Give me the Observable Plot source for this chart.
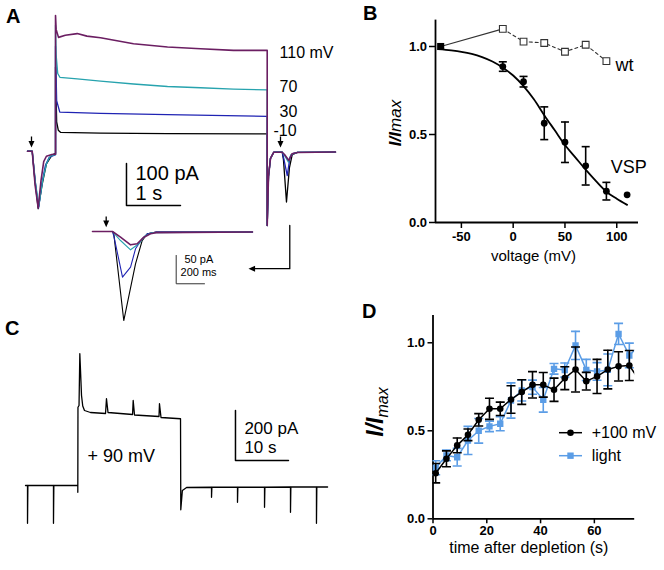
<!DOCTYPE html>
<html><head><meta charset="utf-8">
<script src="https://cdn.jsdelivr.net/npm/d3@7"></script>
<script src="https://cdn.jsdelivr.net/npm/@observablehq/plot@0.6"></script>
<style>
html,body{margin:0;padding:0;background:#fff;}
#fig{position:relative;width:664px;height:570px;overflow:hidden;font-family:'Liberation Sans',Arial,Helvetica,sans-serif;}
#fig svg{position:absolute;overflow:visible;}
</style></head><body><div id="fig"></div>
<script>
const FONT = "'Liberation Sans', Arial, Helvetica, sans-serif";
const fig = document.getElementById("fig");

// ---------- Panel letters ----------
const panelLetters = ["A", "B", "C", "D"];

// ---------- Panel A: traces (time s, current pA) ----------
const aLabels = ["-10", "30", "70", "110 mV"];
const aColors = ["#000000", "#1f23b3", "#27a3ae", "#6b1e62"];
const aBlackT = [0, 0.087, 0.13, 0.198, 0.27, 0.35, 0.45, 0.519, 0.519, 0.54, 0.57, 0.611, 1.352, 2.593, 4.439, 4.439, 4.463, 4.5, 4.561, 4.717, 4.74, 4.796, 4.85, 4.902, 5.0, 5.704];
const aBlackI = [0, 0, -60, -137, -80, -30, -10, -5, 200, 70, 50, 45, 43, 42, 41, -177, -60, -17, -2.4, -2.4, -20, -121, -40, -8, -3, -2];
const aBlueT = [0, 0.087, 0.15, 0.205, 0.27, 0.33, 0.4, 0.519, 0.519, 0.54, 0.598, 1.352, 2.593, 4.439, 4.439, 4.463, 4.5, 4.561, 4.717, 4.75, 4.81, 4.86, 4.92, 5.0, 5.704];
const aBlueI = [0, 0, -80, -135, -75, -35, -15, -8, 250, 120, 93, 90, 87, 83, -177, -60, -17, -2.4, -2.4, -20, -58, -15, -5, -3, -2];
const aCyanT = [0, 0.087, 0.15, 0.21, 0.28, 0.35, 0.42, 0.519, 0.519, 0.53, 0.56, 0.6, 0.92, 1.352, 1.963, 2.593, 3.204, 3.815, 4.439, 4.439, 4.463, 4.5, 4.561, 4.717, 4.76, 4.833, 4.88, 5.0, 5.704];
const aCyanI = [0, 0, -78, -130, -70, -30, -12, -8, 300, 230, 185, 176, 172, 167, 160, 154, 151, 148, 146, -177, -60, -17, -2.4, -2.4, -10, -26, -8, -3, -2];
const aPurpT = [0, 0.087, 0.14, 0.198, 0.25, 0.3, 0.35, 0.45, 0.519, 0.519, 0.53, 0.574, 0.7, 0.92, 1.1, 1.352, 1.963, 2.593, 3.204, 3.815, 4.439, 4.439, 4.463, 4.5, 4.561, 4.717, 4.76, 4.84, 4.9, 5.0, 5.704];
const aPurpI = [0, 0, -80, -135, -70, -25, -12, -8, -7, 323, 290, 271, 276, 280, 274, 270, 256, 248, 244, 240, 240, -177, -60, -17, -2.4, -2.4, -8, -22, -6, -3, -2];
const aLabelT = [4.556, 4.667, 4.667, 4.667];
const aLabelI = [47.6, 93, 154, 233];
const aBarT = 1.833, aBarI = -129.3, aBarDt = 1, aBarDI = 100;
const aBarText = ["100 pA", "1 s"];
const aBarTextT = [2.0, 2.0];
const aBarTextI = [-53, -100.7];
const aArrowT = [0.074, 4.685];

// ---------- Panel A inset (time ms, current pA) ----------
const insBlackT = [0, 141, 151, 221, 304, 351, 387, 450, 1131];
const insBlackI = [0, 0, -5, -157, -57, -16, -4, -1, -1];
const insBlueT = [0, 141, 151, 212, 269, 304, 351, 387, 450, 1131];
const insBlueI = [0, 0, -8, -80.6, -62.8, -30.5, -12.9, -4, -1, -1];
const insCyanT = [0, 141, 198, 269, 327, 375, 420, 1131];
const insCyanI = [0, 0, -15.9, -32.3, -21.7, -7, -2, -1];
const insPurpT = [0, 141, 198, 269, 316, 363, 410, 450, 1131];
const insPurpI = [0, 0, -10, -23.5, -21.7, -10, -4, -2, -1];
const insBarT = 591.5, insBarI = -92.2, insBarDt = 200, insBarDI = 50;
const insBarText = ["50 pA", "200 ms"];
const insBarTextT = [650, 622];
const insBarTextI = [-49.4, -71.8];
const insArrowT = [96.8];

// ---------- Panel B ----------
const bXTicks = [-50, 0, 50, 100];
const bYTicks = [0, 0.5, 1.0];
const bVspV = [-10, 10, 30, 50, 70, 90, 110];
const bVspI = [0.886, 0.80, 0.564, 0.456, 0.322, 0.178, 0.157];
const bVspErr = [0.027, 0.03, 0.093, 0.115, 0.109, 0.05, 0];
const bRefV = [-70];
const bRefI = [1.0];
const bWtV = [-70, -10, 10, 30, 50, 70, 90];
const bWtI = [1.0, 1.10, 1.028, 1.02, 0.97, 1.01, 0.917];
const bFitV = [-72, -60, -50, -40, -30, -20, -10, 0, 10, 20, 30, 40, 50, 60, 70, 80, 90, 100, 110];
const bFitI = [0.985, 0.978, 0.97, 0.958, 0.94, 0.915, 0.88, 0.835, 0.775, 0.70, 0.61, 0.525, 0.44, 0.37, 0.30, 0.235, 0.175, 0.135, 0.10];
const bSeriesLabels = ["wt", "VSP"];
const bSeriesLabelV = [107.5, 111.6];
const bSeriesLabelI = [0.892, 0.3125];

// ---------- Panel C (time s, current pA) ----------
const cT = [0, 0.38, 0.38, 0.45, 5.28, 5.28, 5.35, 9.87, 9.87, 9.9, 10.1, 10.25, 10.4, 10.57, 10.8, 11.13, 12.26, 15.1, 15.28, 15.57, 20.2, 20.32, 20.57, 25.19, 25.28, 25.57, 29.25, 29.3, 29.6, 30.4, 35.1, 35.1, 35.17, 40, 40, 40.07, 45.1, 45.1, 45.17, 50, 50, 50.07, 54.9, 54.9, 54.97, 57];
const cI = [0, 0, -151, 0, 0, -151, 0, 0, -27, 313, 320, 527, 450, 360, 318, 300, 292, 288, 347, 292, 284, 340, 282, 276, 327, 272, 267, -97, -20, -8, -7, -47, -7, -7, -67, -7, -7, -87, -7, -6, -107, -6, -6, -151, -6, -6];
const cBarT = 39.62, cBarI = 100, cBarDt = 10, cBarDI = 200;
const cBarText = ["200 pA", "10 s"];
const cBarTextT = [41.3, 41.3];
const cBarTextI = [226.8, 150.8];
const cStepLabel = ["+ 90 mV"];

// ---------- Panel D ----------
const dXTicks = [0, 20, 40, 60];
const dYTicks = [0, 0.5, 1.0];
const dT = [1, 5, 9, 13, 17, 21, 25, 29, 33, 37, 41, 45, 49, 53, 57, 61, 65, 69, 73, 77];
const dVoltMean = [0.259, 0.341, 0.417, 0.477, 0.5625, 0.625, 0.625, 0.678, 0.720, 0.761, 0.761, 0.733, 0.799, 0.848, 0.782, 0.809, 0.848, 0.866, 0.871, 0.78];
const dVoltErr = [0.055, 0.045, 0.042, 0.033, 0.035, 0.06, 0.038, 0.078, 0.07, 0.075, 0.07, 0.066, 0.065, 0.128, 0.05, 0.097, 0.11, 0.083, 0.085, 0.08];
const dLightMean = [0.29, 0.36, 0.35, 0.445, 0.50, 0.525, 0.54, 0.672, 0.729, 0.748, 0.676, 0.852, 0.845, 0.985, 0.846, 0.837, 0.846, 1.05, 0.928, 0.99];
const dLightErr = [0.04, 0.03, 0.05, 0.08, 0.07, 0.03, 0.04, 0.10, 0.06, 0.04, 0.07, 0.03, 0.04, 0.08, 0.06, 0.05, 0.09, 0.06, 0.07, 0.05];
const dLegend = ["+100 mV", "light"];
const dColors = ["#000000", "#5b9de6"];

// ---------- helpers ----------
const capSym = {draw(ctx, size) { const r = Math.sqrt(size / Math.PI); ctx.moveTo(-r, 0); ctx.lineTo(r, 0); }};
const triDown = {draw(ctx, size) { const r = Math.sqrt(size / Math.PI); ctx.moveTo(-r, -r); ctx.lineTo(r, -r); ctx.lineTo(0, 1.2 * r); ctx.closePath(); }};
const triLeft = {draw(ctx, size) { const r = Math.sqrt(size / Math.PI); ctx.moveTo(r, -r); ctx.lineTo(r, r); ctx.lineTo(-1.2 * r, 0); ctx.closePath(); }};
const zip = (xs, ys) => xs.map((x, i) => ({x, y: ys[i]}));
const baseStyle = {background: "transparent", overflow: "visible", fontFamily: FONT, color: "black"};
function place(svg, left, top) { svg.style.left = left + "px"; svg.style.top = top + "px"; fig.appendChild(svg); return svg; }

// letters overlay
const letterSvg = d3.create("svg").attr("width", 664).attr("height", 570).style("left", "0px").style("top", "0px");
const letterPos = [[6, 23], [363, 20], [5, 335], [362, 318]];
letterSvg.selectAll("text").data(panelLetters).join("text")
  .attr("x", (d, i) => letterPos[i][0]).attr("y", (d, i) => letterPos[i][1])
  .attr("font-family", FONT).attr("font-weight", "bold").attr("font-size", 20).text(d => d);
fig.appendChild(letterSvg.node());

// ---------- Panel A main ----------
const aRows = [[aBlackT, aBlackI], [aBlueT, aBlueI], [aCyanT, aCyanI], [aPurpT, aPurpI]].map(([t, i]) => zip(t, i));
const aMarks = aRows.map((rows, k) => Plot.line(rows, {x: "x", y: "y", stroke: aColors[k], strokeWidth: k === 3 ? 1.6 : 1.3}));
aMarks.push(
  Plot.text(aLabels, {x: (d, i) => aLabelT[i], y: (d, i) => aLabelI[i], text: d => d, textAnchor: "start", fontSize: 16}),
  Plot.line([{x: aBarT, y: aBarI + aBarDI}, {x: aBarT, y: aBarI}, {x: aBarT + aBarDt, y: aBarI}], {x: "x", y: "y", strokeWidth: 1.5}),
  Plot.text(aBarText, {x: aBarTextT, y: aBarTextI, text: d => d, textAnchor: "start", fontSize: 20}),
  Plot.link(aArrowT, {x1: d => d, x2: d => d, y1: 35, y2: 23, strokeWidth: 1.3}),
  Plot.dot(aArrowT, {x: d => d, y: 17.4, symbol: triDown, r: 3, fill: "black", stroke: "none"}),
  Plot.line([{x: 4.857, y: -176.9}, {x: 4.857, y: -279.8}, {x: 4.19, y: -279.8}], {x: "x", y: "y", strokeWidth: 1.3}),
  Plot.dot([4.159], {x: d => d, y: -279.8, symbol: triLeft, r: 3, fill: "black", stroke: "none"})
);
place(Plot.plot({
  width: 360, height: 290, margin: 0,
  x: {domain: [-0.5, 6.1667], axis: null},
  y: {domain: [-331.7, 358.8], axis: null},
  style: baseStyle, marks: aMarks
}), 0, 0);

// ---------- Panel A inset ----------
const insRows = [[insBlackT, insBlackI], [insBlueT, insBlueI], [insCyanT, insCyanI], [insPurpT, insPurpI]].map(([t, i]) => zip(t, i));
const insMarks = insRows.map((rows, k) => Plot.line(rows, {x: "x", y: "y", stroke: aColors[k], strokeWidth: k === 3 ? 1.6 : 1.1}));
insMarks.push(
  Plot.line([{x: insBarT, y: insBarI + insBarDI}, {x: insBarT, y: insBarI}, {x: insBarT + insBarDt, y: insBarI}], {x: "x", y: "y", strokeWidth: 1, stroke: "#333"}),
  Plot.text(insBarText, {x: insBarTextT, y: insBarTextI, text: d => d, textAnchor: "start", fontSize: 11}),
  Plot.link(insArrowT, {x1: d => d, x2: d => d, y1: 26.5, y2: 17.6, strokeWidth: 1.3}),
  Plot.dot(insArrowT, {x: d => d, y: 13.9, symbol: triDown, r: 3, fill: "black", stroke: "none"})
);
place(Plot.plot({
  width: 180, height: 130, margin: 0,
  x: {domain: [-84.8, 1187.3], axis: null},
  y: {domain: [-174.6, 54.67], axis: null},
  style: baseStyle, marks: insMarks
}), 80, 200);

// ---------- Panel C ----------
place(Plot.plot({
  width: 360, height: 240, margin: 0,
  x: {domain: [-4.717, 63.21], axis: null},
  y: {domain: [-220, 740], axis: null},
  style: baseStyle,
  marks: [
    Plot.line(zip(cT, cI), {x: "x", y: "y", strokeWidth: 1.3}),
    Plot.line([{x: cBarT, y: cBarI + cBarDI}, {x: cBarT, y: cBarI}, {x: cBarT + cBarDt, y: cBarI}], {x: "x", y: "y", strokeWidth: 1.5}),
    Plot.text(cBarText, {x: cBarTextT, y: cBarTextI, text: d => d, textAnchor: "start", fontSize: 17}),
    Plot.text(cStepLabel, {x: [11.7], y: [116], text: d => d, textAnchor: "start", fontSize: 18})
  ]
}), 0, 300);

// ---------- Panel B ----------
const bVsp = bVspV.map((v, i) => ({v, i: bVspI[i], e: bVspErr[i]}));
const bErr = bVsp.filter(d => d.e > 0);
const bWt = bWtV.map((v, i) => ({v, i: bWtI[i]}));
const bFit = bFitV.map((v, i) => ({v, i: bFitI[i]}));
const bRef = bRefV.map((v, i) => ({v, i: bRefI[i]}));
const bSvg = Plot.plot({
  width: 304, height: 290,
  marginLeft: 75, marginRight: 26, marginTop: 19.6, marginBottom: 68,
  x: {domain: [-75, 121]},
  y: {domain: [0, 1.15]},
  style: baseStyle,
  marks: [
    Plot.ruleX([-75], {strokeWidth: 1.8}),
    Plot.ruleY([0], {strokeWidth: 1.8}),
    Plot.axisX({ticks: bXTicks, tickFormat: d => String(d), tickSize: 6, tickPadding: 3, fontSize: 13, fontWeight: "bold", strokeWidth: 1.5, label: null}),
    Plot.axisY({ticks: bYTicks, tickFormat: d3.format(".1f"), tickSize: 6, tickPadding: 2.5, fontSize: 13, fontWeight: "bold", strokeWidth: 1.5, label: null}),
    Plot.text(["voltage (mV)"], {frameAnchor: "bottom", dy: 38, dx: -3.5, fontSize: 15}),
    Plot.line(bWt.slice(0, 2), {x: "v", y: "i", stroke: "#333", strokeWidth: 1.1}),
    Plot.line(bWt.slice(1), {x: "v", y: "i", stroke: "#333", strokeWidth: 1.1, strokeDasharray: "3,3"}),
    Plot.dot(bWt.slice(1), {x: "v", y: "i", symbol: "square", r: 3.8, fill: "white", stroke: "#333", strokeWidth: 1.1}),
    Plot.line(bFit, {x: "v", y: "i", curve: "monotone-x", strokeWidth: 1.8}),
    Plot.ruleX(bErr, {x: "v", y1: d => d.i - d.e, y2: d => d.i + d.e, strokeWidth: 1.6}),
    Plot.dot(bErr, {x: "v", y: d => d.i + d.e, symbol: capSym, r: 4, stroke: "black", fill: "none", strokeWidth: 1.6}),
    Plot.dot(bErr, {x: "v", y: d => d.i - d.e, symbol: capSym, r: 4, stroke: "black", fill: "none", strokeWidth: 1.6}),
    Plot.dot(bVsp, {x: "v", y: "i", r: 3.4, fill: "black"}),
    Plot.dot(bRef, {x: "v", y: "i", symbol: "square", r: 4, fill: "black"}),
    Plot.text(bSeriesLabels, {x: bSeriesLabelV, y: bSeriesLabelI, text: d => d, fontSize: 18})
  ]
});
place(bSvg, 360, 0);
{
  const t = d3.select(bSvg).append("text").attr("transform", "translate(41,123) rotate(-90)")
    .attr("text-anchor", "middle").attr("font-family", FONT).attr("font-size", 17).attr("font-style", "italic");
  t.append("tspan").attr("font-weight", "bold").text("I/I");
  t.append("tspan").text("max");
}

// ---------- Panel D ----------
const dVolt = dT.map((t, i) => ({t, m: dVoltMean[i], e: dVoltErr[i]}));
const dLight = dT.map((t, i) => ({t, m: dLightMean[i], e: dLightErr[i]}));
function seriesMarks(rows, color, symbol, r) {
  return [
    Plot.ruleX(rows, {x: "t", y1: d => d.m - d.e, y2: d => d.m + d.e, stroke: color, strokeWidth: 1.6, clip: true}),
    Plot.dot(rows, {x: "t", y: d => d.m + d.e, symbol: capSym, r: 4.5, stroke: color, fill: "none", strokeWidth: 1.6, clip: true}),
    Plot.dot(rows, {x: "t", y: d => d.m - d.e, symbol: capSym, r: 4.5, stroke: color, fill: "none", strokeWidth: 1.6, clip: true}),
    Plot.line(rows, {x: "t", y: "m", stroke: color, strokeWidth: 1.5, clip: true}),
    Plot.dot(rows, {x: "t", y: "m", symbol, r, fill: color, stroke: "none", clip: true})
  ];
}
const dSvg = Plot.plot({
  width: 304, height: 280,
  marginLeft: 72.5, marginRight: 29.8, marginTop: 25, marginBottom: 51.7,
  x: {domain: [0, 75]},
  y: {domain: [0, 1.155]},
  style: baseStyle,
  marks: [
    Plot.ruleX([0], {strokeWidth: 1.8}),
    Plot.ruleY([0], {strokeWidth: 1.8}),
    Plot.axisX({ticks: dXTicks, tickFormat: d => String(d), tickSize: 5, tickPadding: 2, fontSize: 13, fontWeight: "bold", strokeWidth: 1.5, label: null}),
    Plot.axisY({ticks: dYTicks, tickFormat: d3.format(".1f"), tickSize: 5, tickPadding: 3, fontSize: 13, fontWeight: "bold", strokeWidth: 1.5, label: null}),
    Plot.text(["time after depletion (s)"], {frameAnchor: "bottom", dy: 34, dx: -5, fontSize: 16}),
    ...seriesMarks(dLight, dColors[1], "square", 3.6),
    ...seriesMarks(dVolt, dColors[0], "circle", 3.3)
  ]
});
place(dSvg, 360, 290);
{
  const t = d3.select(dSvg).append("text").attr("transform", "translate(23,122) rotate(-90)")
    .attr("text-anchor", "middle").attr("font-family", FONT).attr("font-style", "italic");
  t.append("tspan").attr("font-weight", "bold").attr("font-size", 23).text("I/I");
  t.append("tspan").attr("font-size", 16).attr("dy", 5).text("max");
  const lg = d3.select(dSvg).append("g").attr("font-family", FONT).attr("font-size", 16).attr("text-anchor", "start");
  const ly = [142.7, 165.7];
  dLegend.forEach((lab, k) => {
    lg.append("line").attr("x1", 199).attr("x2", 222).attr("y1", ly[k]).attr("y2", ly[k]).attr("stroke", dColors[k]).attr("stroke-width", 1.5);
    if (k === 0) lg.append("circle").attr("cx", 210.5).attr("cy", ly[k]).attr("r", 3.3).attr("fill", dColors[k]);
    else lg.append("rect").attr("x", 207.3).attr("y", ly[k] - 3.2).attr("width", 6.4).attr("height", 6.4).attr("fill", dColors[k]);
    lg.append("text").attr("x", 231.7).attr("y", ly[k]).attr("dy", "0.35em").attr("text-anchor", "start").text(lab);
  });
}
</script></body></html>
